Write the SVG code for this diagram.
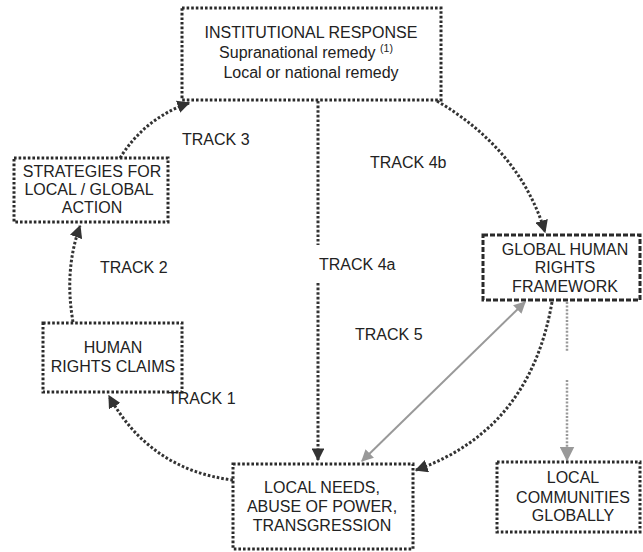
<svg xmlns="http://www.w3.org/2000/svg" width="643" height="552" viewBox="0 0 643 552">
<style>
.box{fill:none;stroke:#2a2a2a;stroke-width:3;stroke-dasharray:2.6 2}
.dash{stroke-dasharray:5 2}
.t{font-family:"Liberation Sans",Arial,sans-serif;font-size:16px;fill:#222;text-anchor:middle}
.lbl{font-family:"Liberation Sans",Arial,sans-serif;font-size:16px;fill:#222}
.dk{fill:none;stroke:#333;stroke-width:3;stroke-dasharray:2.6 2}
.gy{fill:none;stroke:#999;stroke-width:2.5;stroke-dasharray:2 1.6}
.gs{fill:none;stroke:#999;stroke-width:2}
</style>
<defs>
<marker id="ad" viewBox="0 0 10 10" refX="9" refY="5" markerWidth="4.3" markerHeight="4.3" orient="auto" markerUnits="strokeWidth"><path d="M0 0 L10 5 L0 10 z" fill="#333"/></marker>
<marker id="ag" viewBox="0 0 10 10" refX="9" refY="5" markerWidth="6" markerHeight="6" orient="auto-start-reverse" markerUnits="strokeWidth"><path d="M0 0 L10 5 L0 10 z" fill="#999"/></marker>
</defs>
<rect width="643" height="552" fill="#fff"/>
<g id="connectors">
<path class="dk" d="M233 480 Q150 470 109 396" marker-end="url(#ad)"/>
<path class="dk" d="M73 322 Q64 270 80 226" marker-end="url(#ad)"/>
<path class="dk" d="M120 158 Q145 118 189 103" marker-end="url(#ad)"/>
<path class="dk" d="M437 101 Q520 150 545 232" marker-end="url(#ad)"/>
<path class="dk" d="M552 302 Q530 430 416 470" marker-end="url(#ad)"/>
<path class="dk" d="M318 101 V245"/>
<path class="dk" d="M318 283 V460" marker-end="url(#ad)"/>
<path class="gy" d="M567 302 V352"/>
<path class="gy" d="M567 380 V460" marker-end="url(#ag)"/>
<path class="gs" d="M362 461 L525 302" marker-start="url(#ag)" marker-end="url(#ag)"/>
</g>
<g id="institutional">
<rect class="box" x="182" y="8" width="259" height="92"/>
<text class="t" x="311" y="38">INSTITUTIONAL RESPONSE</text>
<text class="t" x="306" y="58">Supranational remedy <tspan font-size="10.5" dy="-6">(1)</tspan></text>
<text class="t" x="311" y="78">Local or national remedy</text>
</g>
<g id="strategies">
<rect class="box" x="14" y="158" width="154" height="64"/>
<text class="t" x="92" y="177">STRATEGIES FOR</text>
<text class="t" x="89" y="195">LOCAL / GLOBAL</text>
<text class="t" x="92" y="213">ACTION</text>
</g>
<g id="claims">
<rect class="box" x="43" y="323" width="139" height="69"/>
<text class="t" x="113" y="353">HUMAN</text>
<text class="t" x="113" y="372">RIGHTS CLAIMS</text>
</g>
<g id="localneeds">
<rect class="box" x="233" y="464" width="180" height="85"/>
<text class="t" x="322" y="493">LOCAL NEEDS,</text>
<text class="t" x="322" y="512">ABUSE OF POWER,</text>
<text class="t" x="322" y="531">TRANSGRESSION</text>
</g>
<g id="framework">
<rect class="box dash" x="483" y="235" width="157" height="65"/>
<text class="t" x="565" y="255">GLOBAL HUMAN</text>
<text class="t" x="565" y="273">RIGHTS</text>
<text class="t" x="565" y="292">FRAMEWORK</text>
</g>
<g id="communities">
<rect class="box" x="497" y="462" width="143" height="70"/>
<text class="t" x="573" y="483">LOCAL</text>
<text class="t" x="573" y="503">COMMUNITIES</text>
<text class="t" x="573" y="521">GLOBALLY</text>
</g>
<g id="labels">
<text class="lbl" x="182" y="145">TRACK 3</text>
<text class="lbl" x="370" y="168">TRACK 4b</text>
<text class="lbl" x="100" y="273">TRACK 2</text>
<text class="lbl" x="319" y="270">TRACK 4a</text>
<text class="lbl" x="355" y="340">TRACK 5</text>
<text class="lbl" x="168" y="404">TRACK 1</text>
</g>
</svg>
